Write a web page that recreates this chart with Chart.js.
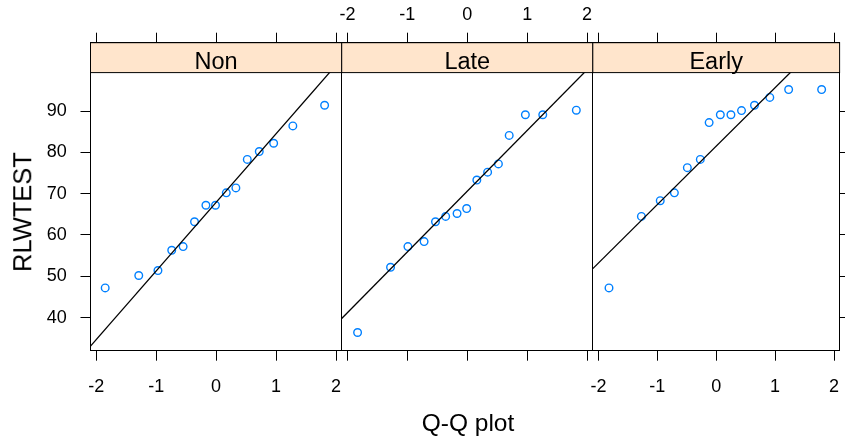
<!DOCTYPE html>
<html><head><meta charset="utf-8">
<script src="https://cdn.jsdelivr.net/npm/chart.js@4.4.0/dist/chart.umd.min.js"></script>
<style>
html,body{margin:0;padding:0;background:#fff;}
#wrap{position:relative;width:845px;height:441px;overflow:hidden;font-family:"Liberation Sans",Arial,sans-serif;}
#wrap canvas{position:absolute;left:0;top:0;}
.lab{position:absolute;font-size:25.5px;color:#000;white-space:nowrap;line-height:1;}
#ylab{left:22.5px;top:211.8px;transform:translate(-50%,-50%) rotate(-90deg);}
#xlab{left:468px;top:423px;transform:translate(-50%,-50%);font-size:24.5px;}
</style></head><body>
<div id="wrap">
<canvas id="c0" width="845" height="441"></canvas>
<canvas id="c1" width="845" height="441"></canvas>
<canvas id="c2" width="845" height="441"></canvas>
<div class="lab" id="ylab">RLWTEST</div>
<div class="lab" id="xlab">Q-Q plot</div>
</div>
<script>
// ---- data ----
const panelNames = ["Non", "Late", "Early"];
const xTicks = [-2, -1, 0, 1, 2];
const yTicks = [40, 50, 60, 70, 80, 90];

const qNon   = [-1.85, -1.29, -0.97, -0.74, -0.55, -0.36, -0.17, -0.01, 0.17, 0.33, 0.52, 0.72, 0.96, 1.28, 1.81];
const yNon   = [47.2, 50.2, 51.4, 56.3, 57.2, 63.2, 67.2, 67.2, 70.2, 71.4, 78.3, 80.2, 82.2, 86.4, 91.4];

const qLate  = [-1.83, -1.28, -0.99, -0.72, -0.53, -0.36, -0.17, -0.01, 0.16, 0.34, 0.52, 0.70, 0.97, 1.26, 1.82];
const yLate  = [36.4, 52.2, 57.2, 58.4, 63.2, 64.5, 65.2, 66.4, 73.3, 75.2, 77.2, 84.1, 89.1, 89.1, 90.2];

const qEarly = [-1.82, -1.27, -0.95, -0.71, -0.49, -0.27, -0.12, 0.07, 0.25, 0.43, 0.65, 0.91, 1.23, 1.79];
const yEarly = [47.2, 64.5, 68.3, 70.2, 76.3, 78.3, 87.2, 89.1, 89.1, 90.1, 91.4, 93.3, 95.2, 95.2];

// reference line (qqline) per panel: intercept and slope
const lineIntercept = [67.9, 70.6, 81.5];
const lineSlope     = [16.6, 14.7, 14.15];

const xLimits = [-2.095, 2.095];
const yLimits = [32.0, 99.3];

// ---- layout ----
Chart.defaults.font.family = '"Liberation Sans", Arial, sans-serif';
Chart.defaults.color = '#000';
const W = 845, H = 441;
const panelLeft  = [90.5, 341.7, 592.8];
const panelRight = [341.7, 592.8, 843.5];
const topAxisH = 42.7, bottomAxisH = 90.3;

const stripPlugin = {
  id: 'strip',
  beforeDraw(chart) {
    const t = chart.titleBlock;
    if (!t) return;
    const ctx = chart.ctx;
    ctx.save();
    ctx.fillStyle = '#FFE5CC';
    ctx.fillRect(t.left, t.top, t.width, t.height);
    ctx.strokeStyle = '#000';
    ctx.lineWidth = 1;
    ctx.strokeRect(t.left, t.top, t.width, t.height);
    ctx.restore();
  }
};

function axisX(position, showLabels, h, weight) {
  return {
    type: 'linear', position: position, min: xLimits[0], max: xLimits[1], weight: weight,
    afterFit: s => { s.height = h; s.paddingLeft = 0; s.paddingRight = 0; },
    afterBuildTicks: s => { s.ticks = xTicks.map(v => ({value: v})); },
    grid: {display: true, drawOnChartArea: false, drawTicks: true, tickLength: 10, color: '#000', lineWidth: 1},
    border: {display: true, color: '#000', width: 1},
    ticks: {display: showLabels, autoSkip: false, maxRotation: 0, includeBounds: false, stepSize: 1,
            padding: position === 'top' ? 6.5 : 16, font: {size: 18}, color: '#000',
            callback: v => String(v)}
  };
}
function axisY(position, showTicks, showLabels, w) {
  return {
    type: 'linear', position: position, min: yLimits[0], max: yLimits[1],
    afterFit: s => { s.width = w; s.paddingTop = 0; s.paddingBottom = 0; },
    afterBuildTicks: s => { s.ticks = yTicks.map(v => ({value: v})); },
    grid: {display: true, drawOnChartArea: false, drawTicks: showTicks, tickLength: 10, color: '#000', lineWidth: 1},
    border: {display: true, color: '#000', width: 1},
    ticks: {display: showLabels, autoSkip: false, includeBounds: false, stepSize: 10,
            padding: 13.8, font: {size: 18}, color: '#000', callback: v => String(v)}
  };
}

const panelQ = [qNon, qLate, qEarly];
const panelY = [yNon, yLate, yEarly];

for (let i = 0; i < 3; i++) {
  const pts = panelQ[i].map((q, k) => ({x: q, y: panelY[i][k]}));
  const lineData = xLimits.map(x => ({x: x, y: lineIntercept[i] + lineSlope[i] * x}));
  const leftW = i === 0 ? panelLeft[0] : 0;
  new Chart(document.getElementById('c' + i), {
    type: 'scatter',
    data: {
      datasets: [
        {type: 'line', data: lineData, borderColor: '#000', borderWidth: 1.3, pointRadius: 0,
         showLine: true, fill: false, clip: 0, xAxisID: 'x', yAxisID: 'y'},
        {data: pts, pointRadius: 3.8, pointBorderWidth: 1.4, borderColor: '#0080ff',
         pointBorderColor: '#0080ff', backgroundColor: 'rgba(0,0,0,0)', pointBackgroundColor: 'rgba(0,0,0,0)',
         xAxisID: 'x', yAxisID: 'y'}
      ]
    },
    options: {
      responsive: false, animation: false, devicePixelRatio: 1,
      events: [],
      layout: {padding: {left: i === 0 ? 0 : panelLeft[i], right: W - panelRight[i], top: 0, bottom: 0}},
      plugins: {
        legend: {display: false}, tooltip: {enabled: false},
        title: {display: true, text: panelNames[i], position: 'top', fullSize: false, weight: -10,
                color: '#000', font: {size: 23.5, weight: 'normal', lineHeight: 0.8},
                padding: {top: 10.4, bottom: 0.7}}
      },
      scales: {
        x: axisX('bottom', i !== 1, bottomAxisH, 0),
        x2: axisX('top', i === 1, topAxisH, 10),
        y: axisY('left', i === 0, i === 0, leftW),
        y2: axisY('right', i === 2, false, 0)
      }
    },
    plugins: [stripPlugin]
  });
}
</script>
</body></html>
